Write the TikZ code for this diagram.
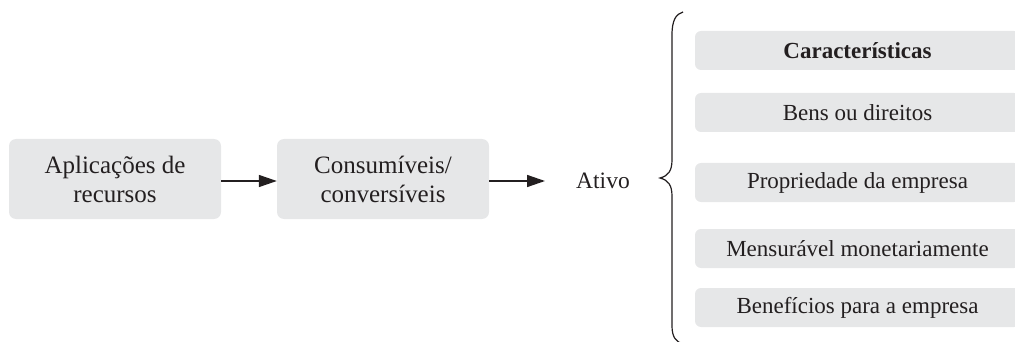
\documentclass[tikz,border=0pt]{standalone}
\usepackage{fontspec}
\setmainfont{Liberation Serif}
\usetikzlibrary{arrows.meta}
\definecolor{boxgray}{HTML}{E6E7E8}
\definecolor{ink}{HTML}{231F20}
\tikzset{
  flowbox/.style={fill=boxgray, rounded corners=7pt, minimum width=212pt, minimum height=80pt,
    align=center, text=ink, font=\fontsize{25}{29}\selectfont, inner sep=0pt},
  featbox/.style={fill=boxgray, rounded corners=6pt, minimum width=325pt, minimum height=39pt,
    text=ink, font=\fontsize{23}{26}\selectfont, inner sep=0pt},
  flowarrow/.style={draw=ink, line width=1.5pt, -{Triangle[length=18pt,width=12pt]}},
}
\begin{document}
\begin{tikzpicture}[x=1pt,y=-1pt]
\useasboundingbox (0,0) rectangle (1015,342);
\clip (0,0) rectangle (1015,342);
% process chain
\node[flowbox] (apl) at (115,179) {Aplicações de\\recursos};
\node[flowbox] (cons) at (383,179) {Consumíveis/\\conversíveis};
\node[text=ink, font=\fontsize{23.5}{26}\selectfont, inner sep=0pt] (ativo) at (603,181) {Ativo};
\coordinate (tip) at (545,181);
\draw[flowarrow] (apl.east |- 0,181) -- (cons.west |- 0,181);
\draw[flowarrow] (cons.east |- 0,181) -- (tip);
% brace
\draw[ink, line width=1.2pt]
  (683,12) .. controls (676,14) and (672,20) .. (672,35) -- (672,160)
  .. controls (672,171) and (668,176) .. (660,178)
  .. controls (668,180) and (672,185) .. (672,196) -- (672,326)
  .. controls (672,337) and (676,342) .. (683,344);
% characteristics
\node[featbox, font=\fontsize{23}{26}\selectfont\bfseries] (c0) at (857.5,50.5) {Características};
\node[featbox] (c1) at (857.5,112.5) {Bens ou direitos};
\node[featbox] (c2) at (857.5,182.5) {Propriedade da empresa};
\node[featbox] (c3) at (857.5,248.5) {Mensurável monetariamente};
\node[featbox] (c4) at (857.5,307.5) {Benefícios para a empresa};
\end{tikzpicture}
\end{document}
